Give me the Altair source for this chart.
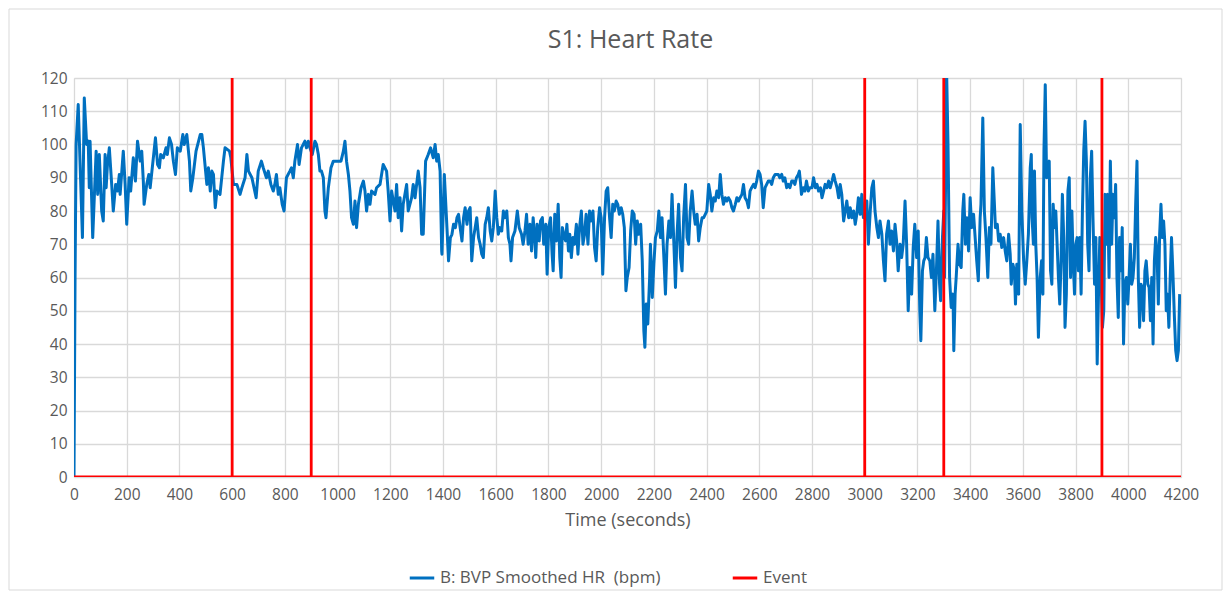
import altair as alt
import pandas as pd

FONT = "Open Sans, sans-serif"
HR_LABEL = "B: BVP Smoothed HR \u00a0(bpm)"
EV_LABEL = "Event"
TITLE = "S1: Heart Rate"

# Heart-rate series: (time in s, bpm)
seg_a = [(0, 0), (4, 60), (8, 100), (16, 112), (32, 72), (39, 114), (48, 100), (54, 101), (58, 87), (61, 101),
         (71, 72), (84, 98), (90, 85), (96, 97), (105, 80), (111, 77), (118, 97), (122, 87), (127, 94), (134, 99),
         (143, 88), (149, 80), (158, 88), (165, 86), (172, 91), (175, 85), (187, 98), (194, 88), (200, 76), (209, 90),
         (215, 86), (225, 96), (233, 89), (241, 101), (251, 95), (257, 98), (263, 89), (266, 82), (276, 88), (284, 91),
         (289, 87), (301, 96), (309, 102), (317, 94), (324, 93), (329, 97), (339, 96), (349, 99), (354, 97), (362, 102),
         (370, 100), (377, 95), (385, 91), (392, 99), (403, 98), (413, 103), (418, 100), (428, 103), (438, 95), (443, 86),
         (451, 90), (463, 98), (479, 103), (485, 103), (491, 99), (504, 88), (510, 93), (517, 86), (523, 92), (529, 91),
         (536, 81), (542, 86), (554, 85), (567, 95), (573, 99), (590, 98), (595, 96), (605, 88), (618, 88), (630, 85),
         (637, 87), (649, 90), (656, 97), (662, 92), (675, 90), (691, 84)]
seg_b = [(699, 92), (711, 95), (718, 93), (730, 90), (737, 92), (747, 88), (756, 86), (762, 88), (768, 91), (775, 85),
         (781, 87), (790, 82), (797, 80), (806, 90), (819, 92), (825, 93), (832, 90), (838, 95), (848, 100), (854, 94),
         (863, 99), (876, 101), (882, 99), (889, 101), (895, 99), (904, 97), (914, 101), (920, 100), (927, 97), (933, 92),
         (939, 92), (946, 90), (952, 80), (956, 78), (965, 87), (975, 93), (984, 95), (990, 95), (1003, 95), (1013, 95),
         (1022, 98), (1028, 101), (1034, 95), (1041, 91), (1047, 86), (1053, 78), (1060, 76), (1066, 83), (1072, 75),
         (1079, 82), (1089, 87), (1098, 89), (1104, 86), (1110, 80), (1117, 85), (1123, 82), (1129, 86), (1142, 85),
         (1148, 87), (1161, 88), (1173, 94), (1186, 92), (1192, 86), (1199, 77), (1205, 86), (1218, 80), (1224, 88),
         (1230, 78), (1237, 84), (1243, 74), (1249, 82), (1262, 88), (1268, 80), (1281, 84), (1287, 88), (1294, 84),
         (1306, 92), (1313, 87), (1319, 73), (1325, 73), (1334, 95), (1344, 97), (1353, 99), (1363, 96), (1370, 100),
         (1376, 95), (1382, 97), (1389, 92), (1395, 68)]
seg_c = [(1396, 67), (1405, 91), (1415, 75), (1421, 65), (1428, 72), (1434, 73), (1440, 76), (1447, 75), (1453, 78),
         (1459, 79), (1465, 75), (1472, 71), (1478, 78), (1484, 81), (1491, 76), (1497, 80), (1503, 81), (1509, 65),
         (1516, 72), (1522, 75), (1528, 78), (1535, 72), (1541, 70), (1547, 67), (1553, 66), (1560, 76), (1566, 78),
         (1572, 81), (1579, 74), (1585, 71), (1591, 75), (1598, 86), (1604, 78), (1610, 73), (1616, 75), (1623, 74),
         (1629, 80), (1635, 78), (1642, 80), (1648, 72), (1654, 70), (1658, 65), (1664, 72), (1673, 74), (1682, 80),
         (1689, 75), (1698, 73), (1704, 70), (1711, 74), (1717, 79), (1723, 70), (1730, 76), (1736, 68), (1742, 78),
         (1748, 72), (1752, 66), (1757, 76), (1765, 71), (1770, 77), (1777, 78), (1782, 70), (1790, 76), (1795, 61),
         (1801, 75), (1808, 78), (1814, 67), (1818, 62), (1824, 79), (1830, 71), (1837, 82), (1843, 66), (1848, 60),
         (1853, 75), (1858, 73), (1865, 71), (1870, 76), (1876, 68), (1881, 73), (1887, 66), (1893, 72), (1899, 70),
         (1906, 76), (1912, 67), (1918, 75), (1925, 80), (1931, 70), (1937, 73), (1943, 79), (1950, 70), (1956, 80),
         (1962, 77), (1969, 80), (1975, 69), (1981, 65), (1987, 75), (1994, 81), (2000, 78), (2006, 61), (2013, 78),
         (2019, 86), (2025, 87), (2032, 78), (2038, 72), (2044, 82), (2050, 80), (2057, 83), (2063, 82), (2069, 79),
         (2076, 81), (2082, 79), (2088, 75), (2094, 56), (2099, 60)]
seg_d = [(2106, 63), (2112, 74), (2118, 80), (2125, 79), (2131, 70), (2137, 77), (2143, 73), (2150, 76), (2156, 65),
         (2162, 44), (2166, 39), (2171, 52), (2177, 46), (2184, 60), (2187, 70), (2194, 54), (2200, 64), (2206, 72),
         (2213, 74), (2219, 80), (2225, 72), (2231, 78), (2238, 66), (2244, 55), (2250, 70), (2257, 77), (2263, 72),
         (2269, 85), (2276, 70), (2282, 57), (2288, 73), (2294, 82), (2301, 66), (2307, 62), (2313, 78), (2320, 88),
         (2326, 72), (2332, 70), (2338, 80), (2345, 86), (2351, 80), (2357, 76), (2364, 79), (2370, 71), (2376, 75),
         (2383, 78), (2389, 78), (2395, 79), (2401, 80), (2408, 88), (2414, 85), (2420, 80), (2427, 84), (2433, 83),
         (2439, 86), (2446, 84), (2452, 91), (2458, 85), (2464, 82), (2471, 84), (2477, 83), (2483, 84), (2490, 83),
         (2496, 81), (2502, 80), (2509, 82), (2515, 84), (2521, 83), (2527, 84), (2534, 85), (2540, 88), (2546, 84),
         (2553, 83), (2559, 81), (2565, 86), (2571, 87), (2578, 88), (2584, 87), (2590, 89), (2597, 92), (2603, 91),
         (2609, 88), (2615, 81), (2622, 87), (2628, 88), (2634, 89), (2641, 89), (2647, 88), (2653, 90), (2660, 91),
         (2666, 91), (2672, 91), (2678, 90), (2685, 91), (2691, 89), (2697, 90), (2704, 87), (2710, 88), (2716, 87),
         (2723, 89), (2729, 89), (2735, 88), (2741, 90), (2748, 91), (2752, 92), (2757, 88), (2760, 85), (2767, 87),
         (2773, 86), (2779, 89), (2786, 86), (2792, 87)]
seg_e = [(2800, 87), (2806, 90), (2813, 87), (2819, 88), (2825, 86), (2832, 87), (2838, 84), (2844, 86), (2850, 88),
         (2857, 87), (2863, 89), (2869, 87), (2876, 89), (2882, 91), (2888, 89), (2895, 87), (2901, 84), (2907, 88),
         (2913, 85), (2920, 77), (2926, 80), (2932, 83), (2939, 78), (2945, 81), (2951, 78), (2958, 80), (2964, 76),
         (2970, 79), (2976, 84), (2983, 79), (2989, 85), (2995, 78), (3002, 80), (3008, 83), (3014, 70), (3021, 80),
         (3027, 87), (3033, 89), (3039, 80), (3046, 75), (3052, 72), (3058, 77), (3065, 73), (3071, 65), (3077, 59),
         (3083, 73), (3090, 77), (3096, 70), (3102, 74), (3109, 68), (3115, 76), (3121, 71), (3127, 62), (3134, 70),
         (3140, 66), (3146, 70), (3153, 83), (3159, 70), (3165, 50), (3171, 63), (3178, 55), (3184, 69), (3190, 76),
         (3197, 66), (3203, 74), (3209, 50), (3213, 41), (3219, 62), (3224, 65), (3229, 66), (3234, 72), (3240, 66),
         (3247, 65), (3253, 60), (3259, 67), (3266, 50), (3272, 62), (3278, 77), (3284, 58), (3288, 53), (3295, 72),
         (3300, 80), (3303, 60), (3307, 90), (3310, 125), (3316, 100), (3322, 60), (3328, 51), (3335, 55), (3338, 38),
         (3343, 55), (3347, 60), (3354, 70), (3360, 64), (3366, 63), (3372, 80), (3376, 85), (3382, 70), (3388, 78),
         (3394, 68), (3400, 84), (3406, 75), (3413, 79), (3419, 72), (3425, 65), (3431, 59), (3438, 78), (3441, 82),
         (3448, 108), (3454, 80), (3460, 72), (3467, 60), (3473, 75), (3479, 70), (3486, 93)]
seg_f = [(3496, 75), (3503, 76), (3508, 71), (3514, 73), (3520, 69), (3527, 72), (3533, 68), (3539, 65), (3546, 73),
         (3552, 67), (3556, 58), (3562, 64), (3568, 62), (3572, 52), (3577, 64), (3584, 55), (3590, 106), (3596, 80),
         (3603, 65), (3609, 58), (3615, 65), (3621, 73), (3628, 93), (3632, 97), (3635, 78), (3640, 70), (3644, 92),
         (3649, 70), (3654, 60), (3659, 42), (3666, 60), (3671, 65), (3676, 55), (3680, 98), (3685, 118), (3690, 90),
         (3695, 92), (3700, 95), (3705, 62), (3710, 58), (3715, 82), (3720, 75), (3725, 80), (3730, 70), (3735, 60),
         (3740, 52), (3745, 65), (3750, 85), (3755, 72), (3760, 45), (3765, 55), (3771, 86), (3776, 90), (3781, 60),
         (3786, 80), (3791, 65), (3796, 55), (3801, 70), (3806, 72), (3811, 62), (3816, 72), (3821, 55), (3826, 80),
         (3831, 98), (3836, 107), (3841, 95), (3846, 70), (3851, 62), (3856, 90), (3861, 98), (3866, 78), (3872, 58),
         (3877, 72), (3882, 34), (3887, 55), (3892, 72), (3897, 60), (3902, 45), (3907, 50), (3912, 85), (3917, 70),
         (3922, 85), (3927, 60), (3932, 95), (3937, 70), (3942, 85), (3947, 78), (3952, 88), (3957, 60), (3962, 48),
         (3967, 72), (3972, 62), (3977, 75), (3982, 40), (3987, 58), (3993, 60), (3998, 52), (4003, 60), (4008, 70),
         (4013, 58), (4018, 60), (4023, 66), (4028, 82), (4033, 95), (4038, 60), (4043, 45), (4048, 58), (4053, 57),
         (4058, 47), (4063, 62), (4068, 65), (4074, 58), (4079, 57), (4084, 47), (4089, 60), (4094, 40), (4099, 65),
         (4104, 72), (4109, 68), (4114, 52), (4119, 73), (4124, 82), (4129, 72), (4134, 77), (4139, 70), (4144, 50),
         (4149, 55), (4154, 45), (4159, 60), (4164, 72), (4169, 62), (4175, 48), (4180, 38), (4185, 35), (4190, 38),
         (4195, 55)]

events = [600, 900, 3000, 3300, 3900]
event_high = 120
x_end = 4200
x_ticks = list(range(0, 4201, 200))
y_ticks = list(range(0, 121, 10))

hr_points = seg_a + seg_b + seg_c + seg_d + seg_e + seg_f
hr_df = pd.DataFrame({
    "t": [p[0] for p in hr_points],
    "v": [p[1] for p in hr_points],
    "series": HR_LABEL,
    "i": list(range(len(hr_points))),
})

ev_pts = [(0, 0)]
for e in events:
    ev_pts += [(e, 0), (e, event_high), (e, 0)]
ev_pts.append((x_end, 0))
ev_df = pd.DataFrame({
    "t": [p[0] for p in ev_pts],
    "v": [p[1] for p in ev_pts],
    "series": EV_LABEL,
    "i": list(range(len(ev_pts))),
})

W, H = 1107, 399
GREY = "#595959"

color = alt.Color(
    "series:N",
    scale=alt.Scale(domain=[HR_LABEL, EV_LABEL], range=["#0070C0", "#FF0000"]),
    legend=alt.Legend(
        title=None, orient="none", legendX=334, legendY=486, direction="horizontal",
        symbolType="stroke", symbolStrokeWidth=3, symbolSize=600,
        labelFontSize=17, labelColor=GREY, labelFont=FONT, labelLimit=400,
        columnPadding=65,
    ),
)

x_enc = alt.X(
    "t:Q",
    scale=alt.Scale(domain=[0, x_end], nice=False, zero=False),
    axis=alt.Axis(values=x_ticks, title="Time (seconds)", format="d", ticks=False, domain=False,
                  labelPadding=10, labelFontSize=15.5, labelColor=GREY, labelFont=FONT,
                  titleFontSize=18, titleColor=GREY, titleFont=FONT, titleFontWeight="normal",
                  titlePadding=9, gridColor="#D9D9D9", gridWidth=1.3, labelFlush=False),
)
y_enc = alt.Y(
    "v:Q",
    scale=alt.Scale(domain=[0, event_high], nice=False),
    axis=alt.Axis(values=y_ticks, title=None, ticks=False, domain=False, labelPadding=7,
                  labelFontSize=15.5, labelColor=GREY, labelFont=FONT,
                  gridColor="#D9D9D9", gridWidth=1.3),
)

hr_line = alt.Chart(hr_df).mark_line(clip=True, strokeWidth=3, strokeJoin="round").encode(
    x=x_enc, y=y_enc, color=color, order="i:Q"
)
ev_line = alt.Chart(ev_df).mark_line(clip=True, strokeWidth=2.8).encode(
    x=x_enc, y=y_enc, color=color, order="i:Q"
)

frame = alt.Chart(pd.DataFrame({"k": [0]})).mark_rect(
    fillOpacity=0, stroke="#D9D9D9", strokeWidth=1
).encode(x=alt.value(-65), x2=alt.value(1148), y=alt.value(-69), y2=alt.value(512))

title = alt.Chart(pd.DataFrame({"label": [TITLE]})).mark_text(
    font=FONT, fontSize=25, color=GREY, align="center", baseline="middle"
).encode(text="label:N", x=alt.value(W / 2 + 3), y=alt.value(-38))

chart = alt.layer(hr_line, ev_line, frame, title).properties(
    width=W, height=H,
    autosize=alt.AutoSizeParams(type="none"),
    padding={"left": 66, "top": 70, "right": 42, "bottom": 114},
).configure_view(stroke=None).configure(background="white")

chart.save("out.html", embed_options={"renderer": "svg", "actions": False})
